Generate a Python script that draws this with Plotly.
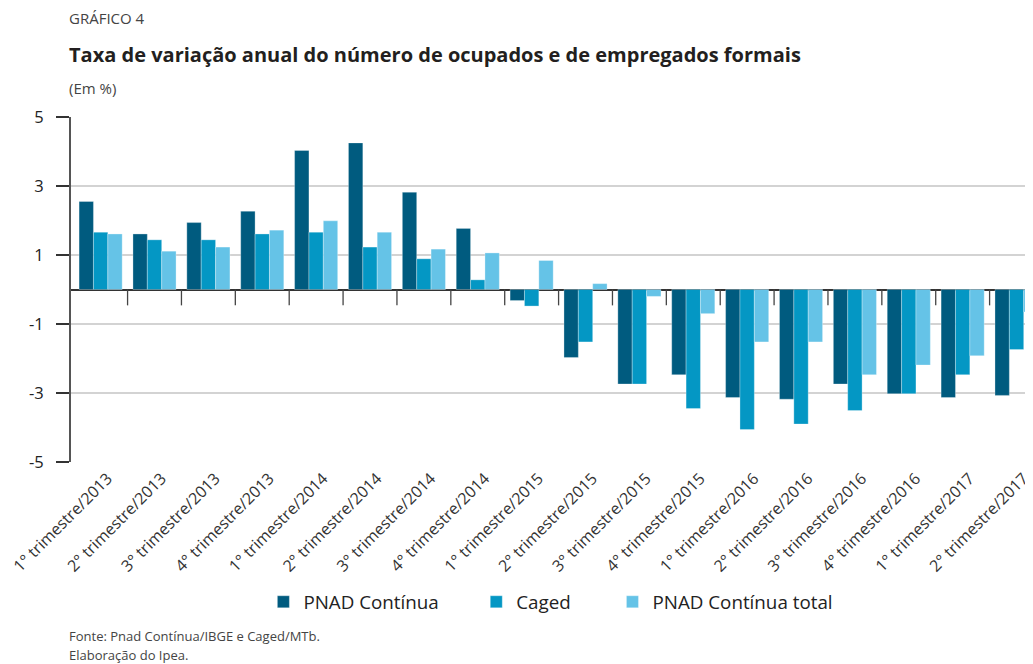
import plotly.graph_objects as go

categories = [
    "1° trimestre/2013", "2° trimestre/2013", "3° trimestre/2013", "4° trimestre/2013",
    "1° trimestre/2014", "2° trimestre/2014", "3° trimestre/2014", "4° trimestre/2014",
    "1° trimestre/2015", "2° trimestre/2015", "3° trimestre/2015", "4° trimestre/2015",
    "1° trimestre/2016", "2° trimestre/2016", "3° trimestre/2016", "4° trimestre/2016",
    "1° trimestre/2017", "2° trimestre/2017",
]
pnad_continua = [2.55, 1.61, 1.94, 2.27, 4.03, 4.25, 2.82, 1.77,
                 -0.32, -1.97, -2.74, -2.47, -3.13, -3.18, -2.74, -3.02, -3.13, -3.07]
caged = [1.66, 1.44, 1.44, 1.61, 1.66, 1.23, 0.89, 0.28,
         -0.48, -1.52, -2.74, -3.45, -4.06, -3.90, -3.51, -3.02, -2.47, -1.74]
pnad_total = [1.61, 1.11, 1.23, 1.72, 1.99, 1.66, 1.17, 1.06,
              0.84, 0.17, -0.20, -0.70, -1.52, -1.52, -2.47, -2.19, -1.92, -0.65]
y_ticks = [-5, -3, -1, 1, 3, 5]

series = [
    ("PNAD Contínua", pnad_continua, "#005b7f", "legend", 0.2006),
    ("Caged", caged, "#0497c4", "legend2", 0.4226),
    ("PNAD Contínua total", pnad_total, "#65c3e7", "legend3", 0.5646),
]

fig = go.Figure()
FONT = "Open Sans"
legend_layouts = {}
for name, vals, color, leg, lx in series:
    fig.add_trace(go.Bar(
        x=categories, y=vals, name=name, legend=leg,
        marker=dict(color=color, line=dict(color="rgba(255,255,255,0.5)", width=0.6)),
    ))
    legend_layouts[leg] = dict(
        orientation="h", x=lx, xanchor="left", y=-0.406, yanchor="middle",
        font=dict(size=18.8, color="#222222", family=FONT),
        itemwidth=30, bgcolor="rgba(0,0,0,0)",
    )

# tick marks hanging below the zero line at category boundaries
for i in range(len(categories) - 1):
    fig.add_shape(type="line", xref="x", yref="y",
                  x0=i + 0.5, x1=i + 0.5, y0=0, y1=-0.46,
                  line=dict(color="#444444", width=1.3))

fig.update_layout(
    width=1025, height=656,
    margin=dict(l=61, r=0, t=109, b=202),
    paper_bgcolor="white", plot_bgcolor="white",
    barmode="group", bargap=0.2, bargroupgap=0,
    font=dict(family=FONT, color="#333333"),
    showlegend=True,
    xaxis=dict(
        type="category", range=[-0.55, 17.25],
        showgrid=False, showline=False, zeroline=False, ticks="",
        tickangle=-45, tickfont=dict(size=16, color="#333333", family=FONT),
        ticklabelshift=7, ticklabelstandoff=3,
    ),
    yaxis=dict(
        range=[-5, 5], tickvals=y_ticks, ticktext=[str(v) for v in y_ticks],
        showgrid=True, gridcolor="#d3d3d3", gridwidth=1.5,
        zeroline=True, zerolinecolor="#333333", zerolinewidth=2,
        showline=True, linecolor="#555555", linewidth=2,
        ticks="outside", ticklen=13, tickcolor="#333333", tickwidth=1.5,
        tickfont=dict(size=16.5, color="#222222", family=FONT),
        ticklabelstandoff=9,
    ),
    **legend_layouts,
)

def ann(text, y, size, color="#333333", bold=False):
    fig.add_annotation(text=f"<b>{text}</b>" if bold else text,
                       xref="paper", yref="paper", x=-0.004, y=y,
                       xanchor="left", yanchor="middle", showarrow=False,
                       font=dict(size=size, color=color, family=FONT))

ann("GRÁFICO 4", 1.287, 15, "#444444")
ann("Taxa de variação anual do número de ocupados e de empregados formais", 1.180, 20, "#231f20", bold=True)
ann("(Em %)", 1.084, 15, "#444444")
ann("Fonte: Pnad Contínua/IBGE e Caged/MTb.", -0.504, 13, "#444444")
ann("Elaboração do Ipea.", -0.5595, 13, "#444444")

fig.write_html("out.html")
